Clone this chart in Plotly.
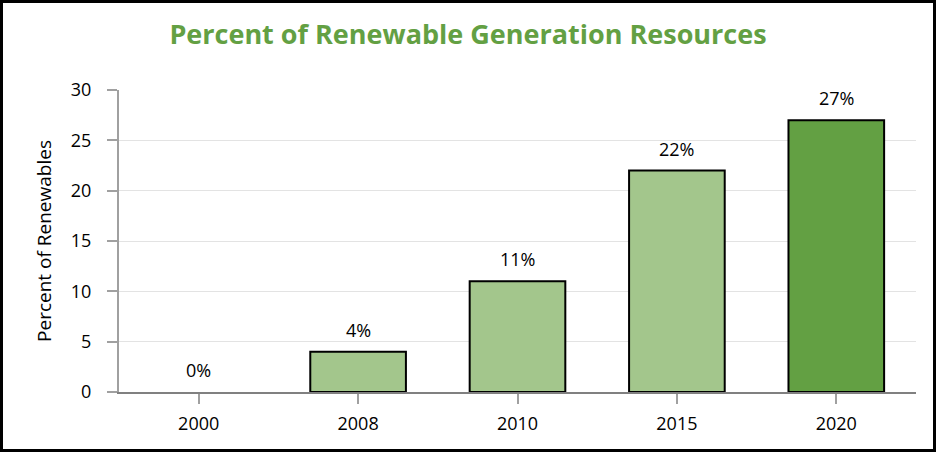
import plotly.graph_objects as go

years = ["2000", "2008", "2010", "2015", "2020"]
percent = [0, 4, 11, 22, 27]
labels = ["0%", "4%", "11%", "22%", "27%"]
bar_colors = ["#A3C68C", "#A3C68C", "#A3C68C", "#A3C68C", "#63A043"]
y_ticks = [0, 5, 10, 15, 20, 25, 30]

W, H = 936, 452
L, R, T, B = 119, 20, 90, 60
pw, ph = W - L - R, H - T - B

fig = go.Figure()
fig.add_trace(go.Bar(
    x=years, y=percent,
    marker=dict(color=bar_colors,
                line=dict(color="#000000", width=[0 if v == 0 else 2 for v in percent])),
    width=0.6,
    hoverinfo="skip",
))

for i, (yv, lab) in enumerate(zip(percent, labels)):
    fig.add_annotation(x=i, y=yv, text=lab, showarrow=False, yanchor="bottom",
                       yshift=8, font=dict(size=18, color="#000000", family="Open Sans"))

fig.add_shape(type="rect", xref="paper", yref="paper",
              x0=-(L - 1.5) / pw, x1=1 + (R - 1.5) / pw,
              y0=-(B - 1.5) / ph, y1=1 + (T - 1.5) / ph,
              line=dict(color="#000000", width=3), layer="above")

fig.update_layout(
    width=W, height=H,
    margin=dict(l=L, r=R, t=T, b=B),
    paper_bgcolor="white", plot_bgcolor="white",
    showlegend=False,
    title=dict(text="<b>Percent of Renewable Generation Resources</b>",
               x=0.5, xref="container", xanchor="center", y=1 - 35 / H, yanchor="middle",
               font=dict(size=27, color="#63A043", family="Open Sans")),
    font=dict(family="Open Sans", size=18, color="#000000"),
    xaxis=dict(type="category", range=[-0.5, len(years) - 0.5], showline=True,
               linecolor="#808080", linewidth=2,
               ticks="outside", ticklen=10, tickcolor="#A0A0A0", tickwidth=2,
               ticklabelstandoff=4,
               tickfont=dict(size=18), showgrid=False),
    yaxis=dict(range=[0, 30], tickvals=y_ticks, showline=True, linecolor="#A0A0A0",
               linewidth=2, ticks="outside", ticklen=10, tickcolor="#A0A0A0", tickwidth=2,
               ticklabelstandoff=12,
               showgrid=True, gridcolor="#E3E3E3", gridwidth=1, zeroline=False,
               tickfont=dict(size=18),
               title=dict(text="Percent of Renewables", font=dict(size=19), standoff=14)),
    bargap=0.4,
)

fig.write_html("out.html", config={"displayModeBar": False},
               post_script="document.body.style.margin='0';")
